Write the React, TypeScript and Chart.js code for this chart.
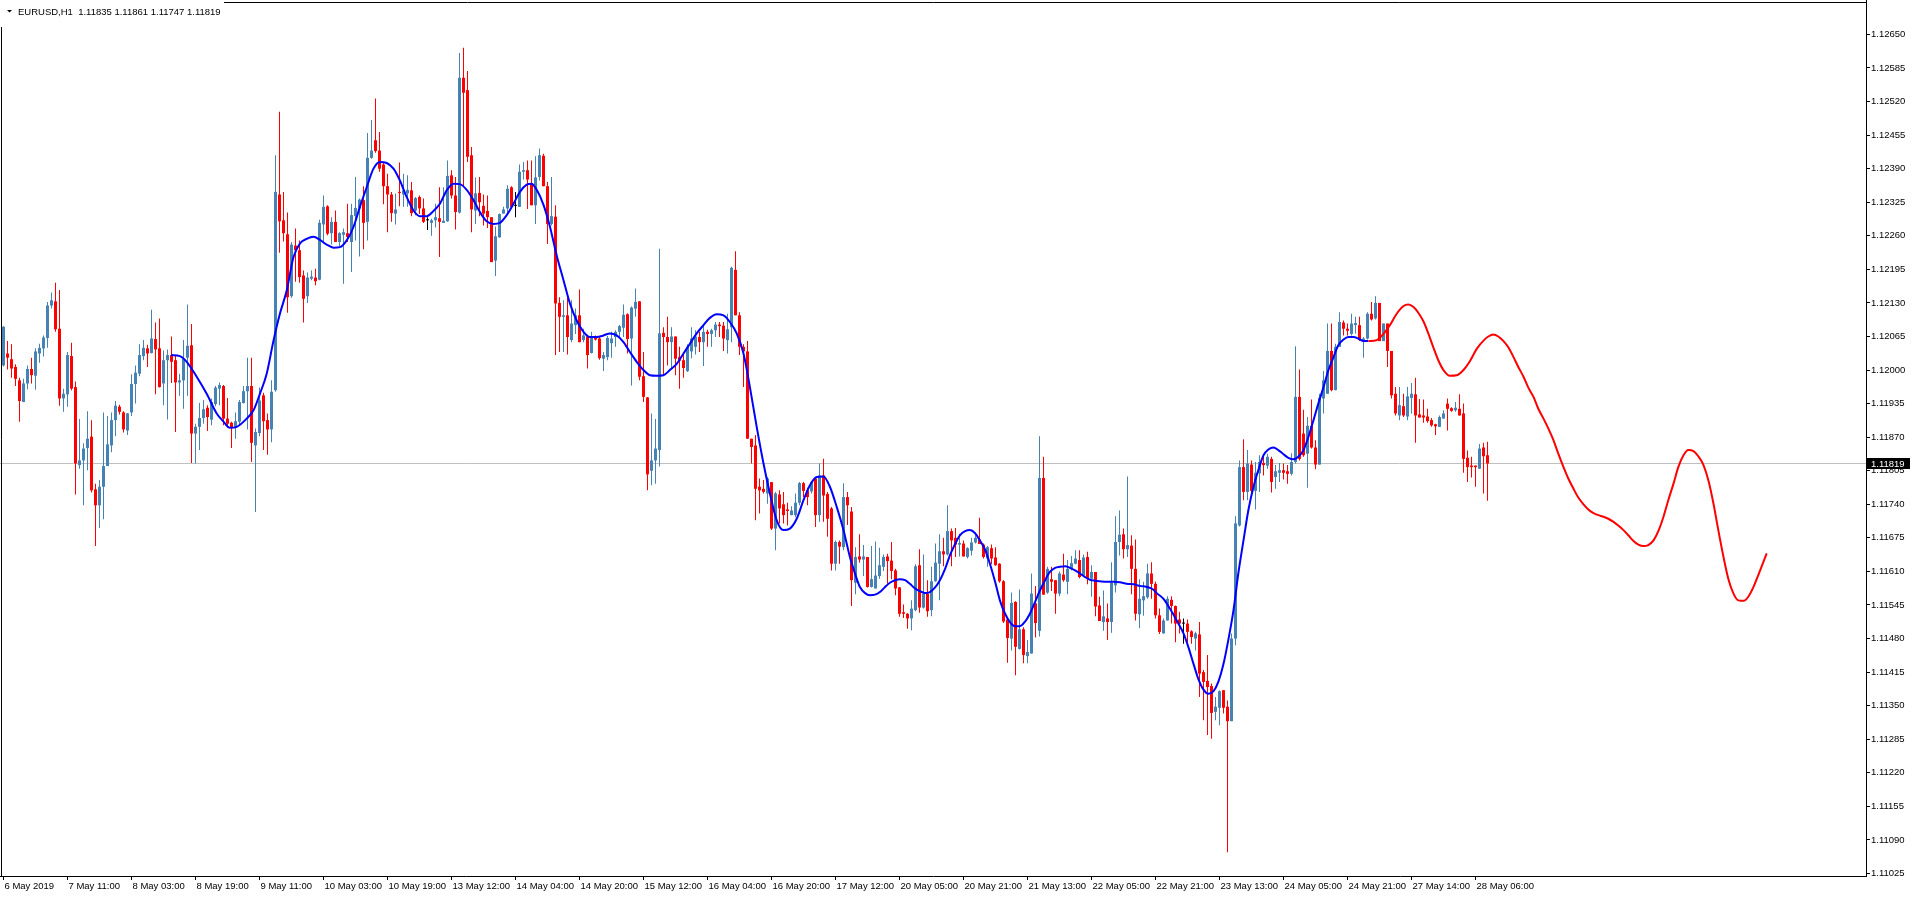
import React, { useEffect, useRef } from 'react';
import { Chart, registerables } from 'chart.js';

Chart.register(...registerables);

const SYMBOL = 'EURUSD,H1';

const xTickIdx = [0, 16, 32, 48, 64, 80, 96, 112, 128, 144, 160, 176, 192, 208, 224, 240, 256, 272, 288, 304, 320, 336, 352, 368];
const xTickLabels = ['6 May 2019', '7 May 11:00', '8 May 03:00', '8 May 19:00', '9 May 11:00', '10 May 03:00', '10 May 19:00', '13 May 12:00', '14 May 04:00', '14 May 20:00', '15 May 12:00', '16 May 04:00', '16 May 20:00', '17 May 12:00', '20 May 05:00', '20 May 21:00', '21 May 13:00', '22 May 05:00', '22 May 21:00', '23 May 13:00', '24 May 05:00', '24 May 21:00', '27 May 14:00', '28 May 06:00'];
const yTickVals = [1.11025, 1.1109, 1.11155, 1.1122, 1.11285, 1.1135, 1.11415, 1.1148, 1.11545, 1.1161, 1.11675, 1.1174, 1.11805, 1.1187, 1.11935, 1.12, 1.12065, 1.1213, 1.12195, 1.1226, 1.12325, 1.1239, 1.12455, 1.1252, 1.12585, 1.1265];

const open = [
  1.12009,1.12032,1.12021,1.12006,1.11980,1.11938,1.11974,1.12002,1.11989,1.12032,1.12042,1.12062,
  1.12125,1.12133,1.12080,1.11945,1.11953,1.12027,1.11967,1.11816,1.11825,1.11849,1.11871,1.11769,
  1.11738,1.11774,1.11814,1.11854,1.11903,1.11929,1.11918,1.11883,1.11918,1.11973,1.11993,1.12027,
  1.12042,1.12033,1.12060,1.12042,1.11974,1.12019,1.12029,1.12019,1.11976,1.11980,1.12024,1.12048,
  1.11877,1.11890,1.11907,1.11927,1.11904,1.11934,1.11964,1.11969,1.11906,1.11898,1.11888,1.11900,
  1.11936,1.11959,1.11969,1.11854,1.11878,1.11951,1.11903,1.11885,1.11961,1.12340,1.12290,1.12263,
  1.12143,1.12241,1.12232,1.12183,1.12143,1.12177,1.12179,1.12175,1.12282,1.12317,1.12265,1.12287,
  1.12248,1.12262,1.12265,1.12248,1.12298,1.12313,1.12329,1.12287,1.12411,1.12445,1.12425,1.12398,
  1.12356,1.12340,1.12303,1.12345,1.12340,1.12342,1.12348,1.12309,1.12335,1.12313,1.12290,1.12285,
  1.12290,1.12294,1.12285,1.12288,1.12377,1.12338,1.12305,1.12566,1.12542,1.12416,1.12309,1.12343,
  1.12318,1.12308,1.12296,1.12212,1.12257,1.12303,1.12313,1.12354,1.12318,1.12316,1.12384,1.12387,
  1.12361,1.12319,1.12374,1.12415,1.12356,1.12283,1.12297,1.12130,1.12103,1.12106,1.12058,1.12087,
  1.12106,1.12058,1.12065,1.12033,1.12064,1.12061,1.12022,1.12025,1.12052,1.12064,1.12074,1.12082,
  1.12108,1.12061,1.12119,1.12133,1.11988,1.11947,1.11805,1.11825,1.11845,1.12072,1.12064,1.12054,
  1.12065,1.12025,1.12019,1.11998,1.12036,1.12045,1.12064,1.12054,1.12074,1.12070,1.12077,1.12088,
  1.12086,1.12058,1.12083,1.12194,1.12106,1.12045,1.12036,1.11867,1.11854,1.11774,1.11770,1.11761,
  1.11783,1.11693,1.11759,1.11740,1.11730,1.11719,1.11719,1.11743,1.11781,1.11767,1.11765,1.11790,
  1.11719,1.11796,1.11760,1.11732,1.11625,1.11667,1.11657,1.11754,1.11726,1.11588,1.11639,1.11633,
  1.11638,1.11580,1.11577,1.11601,1.11619,1.11639,1.11631,1.11612,1.11579,1.11531,1.11528,1.11519,
  1.11535,1.11622,1.11540,1.11567,1.11535,1.11591,1.11625,1.11649,1.11643,1.11688,1.11675,1.11662,
  1.11664,1.11638,1.11650,1.11666,1.11672,1.11662,1.11635,1.11655,1.11637,1.11625,1.11591,1.11517,
  1.11480,1.11551,1.11460,1.11498,1.11446,1.11451,1.11548,1.11495,1.11791,1.11569,1.11595,1.11593,
  1.11567,1.11604,1.11590,1.11615,1.11625,1.11632,1.11602,1.11638,1.11596,1.11609,1.11544,1.11512,
  1.11519,1.11512,1.11583,1.11667,1.11682,1.11653,1.11660,1.11615,1.11527,1.11554,1.11560,1.11606,
  1.11586,1.11525,1.11490,1.11515,1.11555,1.11543,1.11517,1.11509,1.11509,1.11494,1.11480,1.11488,
  1.11415,1.11398,1.11388,1.11338,1.11346,1.11380,1.11348,1.11320,1.11480,1.11699,1.11812,1.11764,
  1.11817,1.11766,1.11800,1.11820,1.11815,1.11828,1.11793,1.11801,1.11806,1.11804,1.11799,1.11822,
  1.11948,1.11877,1.11838,1.11892,1.11850,1.11817,1.11945,1.11954,1.12037,1.11961,1.12045,1.12092,
  1.12080,1.12070,1.12087,1.12087,1.12058,1.12061,1.12109,1.12100,1.12130,1.12056,1.12090,1.12037,
  1.11954,1.11912,1.11930,1.11910,1.11946,1.11953,1.11914,1.11912,1.11910,1.11903,1.11895,1.11890,
  1.11906,1.11935,1.11926,1.11922,1.11925,1.11916,1.11830,1.11815,1.11815,1.11809,1.11850,1.11835,
];
const high = [
  1.12085,1.12056,1.12050,1.12011,1.11985,1.11983,1.12009,1.12024,1.12042,1.12051,1.12067,1.12132,
  1.12150,1.12169,1.12155,1.11964,1.12035,1.12053,1.11978,1.11905,1.11858,1.11920,1.11903,1.11780,
  1.11787,1.11918,1.11911,1.11918,1.11940,1.11933,1.11920,1.11917,1.11992,1.12009,1.12050,1.12058,
  1.12049,1.12117,1.12092,1.12100,1.12038,1.12040,1.12065,1.12029,1.11993,1.12058,1.12127,1.12089,
  1.11896,1.11936,1.11942,1.11932,1.11945,1.11969,1.11976,1.11971,1.11946,1.11900,1.11918,1.11942,
  1.11969,1.12024,1.12024,1.11887,1.11966,1.11956,1.11916,1.11980,1.12416,1.12500,1.12345,1.12305,
  1.12248,1.12274,1.12251,1.12193,1.12189,1.12193,1.12196,1.12291,1.12338,1.12319,1.12296,1.12309,
  1.12267,1.12274,1.12322,1.12322,1.12374,1.12332,1.12356,1.12459,1.12484,1.12526,1.12461,1.12403,
  1.12380,1.12345,1.12342,1.12402,1.12380,1.12377,1.12364,1.12335,1.12338,1.12332,1.12296,1.12293,
  1.12322,1.12354,1.12354,1.12406,1.12387,1.12374,1.12614,1.12624,1.12579,1.12432,1.12373,1.12374,
  1.12340,1.12338,1.12296,1.12278,1.12303,1.12316,1.12358,1.12356,1.12345,1.12398,1.12403,1.12406,
  1.12406,1.12414,1.12429,1.12419,1.12364,1.12374,1.12319,1.12141,1.12135,1.12141,1.12135,1.12119,
  1.12156,1.12080,1.12067,1.12074,1.12067,1.12064,1.12035,1.12066,1.12074,1.12077,1.12087,1.12127,
  1.12110,1.12123,1.12158,1.12133,1.12035,1.11948,1.11916,1.11905,1.12235,1.12083,1.12103,1.12083,
  1.12065,1.12045,1.12032,1.12050,1.12083,1.12077,1.12074,1.12087,1.12078,1.12080,1.12093,1.12093,
  1.12093,1.12109,1.12200,1.12230,1.12112,1.12050,1.12056,1.11867,1.11874,1.11790,1.11787,1.11793,
  1.11783,1.11764,1.11767,1.11764,1.11743,1.11736,1.11761,1.11783,1.11783,1.11772,1.11783,1.11793,
  1.11819,1.11828,1.11764,1.11735,1.11670,1.11670,1.11781,1.11764,1.11735,1.11657,1.11682,1.11661,
  1.11638,1.11659,1.11668,1.11656,1.11643,1.11644,1.11667,1.11615,1.11580,1.11546,1.11529,1.11554,
  1.11624,1.11653,1.11643,1.11593,1.11619,1.11664,1.11682,1.11675,1.11738,1.11693,1.11694,1.11683,
  1.11670,1.11657,1.11675,1.11680,1.11714,1.11664,1.11659,1.11662,1.11657,1.11626,1.11593,1.11519,
  1.11569,1.11552,1.11575,1.11502,1.11477,1.11606,1.11582,1.11872,1.11832,1.11619,1.11619,1.11593,
  1.11610,1.11644,1.11632,1.11640,1.11651,1.11651,1.11643,1.11648,1.11622,1.11609,1.11561,1.11573,
  1.11548,1.11628,1.11717,1.11728,1.11693,1.11794,1.11680,1.11672,1.11595,1.11590,1.11625,1.11628,
  1.11590,1.11538,1.11519,1.11562,1.11562,1.11544,1.11532,1.11519,1.11517,1.11496,1.11493,1.11512,
  1.11419,1.11448,1.11393,1.11367,1.11380,1.11380,1.11360,1.11490,1.11717,1.11825,1.11866,1.11845,
  1.11825,1.11822,1.11835,1.11834,1.11838,1.11832,1.11816,1.11820,1.11819,1.11816,1.11839,1.12046,
  1.12001,1.11923,1.11909,1.11943,1.11864,1.11954,1.11998,1.12090,1.12090,1.12051,1.12112,1.12096,
  1.12090,1.12109,1.12103,1.12103,1.12064,1.12112,1.12132,1.12143,1.12130,1.12090,1.12090,1.12037,
  1.11967,1.11967,1.11954,1.11967,1.11975,1.11985,1.11944,1.11943,1.11925,1.11907,1.11896,1.11912,
  1.11922,1.11945,1.11928,1.11938,1.11953,1.11935,1.11844,1.11832,1.11815,1.11857,1.11859,1.11861,
];
const low = [
  1.12007,1.12001,1.11985,1.11969,1.11900,1.11938,1.11963,1.11974,1.11962,1.12014,1.12026,1.12043,
  1.12119,1.12074,1.11931,1.11919,1.11929,1.11961,1.11759,1.11809,1.11738,1.11806,1.11763,1.11659,
  1.11694,1.11711,1.11814,1.11841,1.11872,1.11914,1.11879,1.11874,1.11911,1.11935,1.11988,1.12019,
  1.12006,1.12032,1.11953,1.11966,1.11932,1.11904,1.11975,1.11880,1.11950,1.11925,1.11950,1.11820,
  1.11819,1.11845,1.11896,1.11882,1.11893,1.11930,1.11932,1.11893,1.11888,1.11849,1.11867,1.11892,
  1.11935,1.11885,1.11822,1.11725,1.11872,1.11845,1.11836,1.11860,1.11958,1.12227,1.12249,1.12111,
  1.12140,1.12171,1.12169,1.12092,1.12130,1.12174,1.12164,1.12174,1.12245,1.12261,1.12243,1.12248,
  1.12240,1.12167,1.12248,1.12190,1.12251,1.12220,1.12234,1.12251,1.12409,1.12421,1.12384,1.12321,
  1.12267,1.12287,1.12282,1.12317,1.12316,1.12316,1.12298,1.12300,1.12302,1.12285,1.12271,1.12260,
  1.12276,1.12219,1.12285,1.12287,1.12332,1.12272,1.12303,1.12356,1.12403,1.12267,1.12283,1.12298,
  1.12280,1.12275,1.12209,1.12182,1.12256,1.12303,1.12303,1.12313,1.12296,1.12316,1.12369,1.12312,
  1.12319,1.12283,1.12367,1.12356,1.12244,1.12280,1.12029,1.12035,1.12035,1.12030,1.12054,1.12070,
  1.12054,1.12054,1.12003,1.12032,1.12057,1.12020,1.11998,1.12019,1.12024,1.12045,1.12064,1.12064,
  1.12032,1.11970,1.12103,1.11980,1.11938,1.11767,1.11777,1.11780,1.11813,1.11990,1.12009,1.12000,
  1.11990,1.11964,1.11985,1.11996,1.12023,1.12030,1.12035,1.12008,1.12045,1.12045,1.12064,1.12064,
  1.12037,1.12032,1.12054,1.12106,1.12029,1.11967,1.11867,1.11819,1.11709,1.11722,1.11761,1.11741,
  1.11690,1.11651,1.11703,1.11703,1.11699,1.11719,1.11715,1.11738,1.11754,1.11738,1.11761,1.11696,
  1.11706,1.11706,1.11677,1.11612,1.11612,1.11625,1.11651,1.11700,1.11543,1.11566,1.11627,1.11601,
  1.11579,1.11579,1.11577,1.11596,1.11611,1.11586,1.11595,1.11564,1.11522,1.11520,1.11499,1.11496,
  1.11533,1.11530,1.11538,1.11522,1.11523,1.11590,1.11554,1.11620,1.11641,1.11620,1.11638,1.11639,
  1.11639,1.11635,1.11641,1.11664,1.11663,1.11635,1.11619,1.11624,1.11621,1.11588,1.11510,1.11433,
  1.11457,1.11409,1.11459,1.11432,1.11432,1.11451,1.11482,1.11484,1.11565,1.11567,1.11572,1.11528,
  1.11562,1.11590,1.11566,1.11612,1.11624,1.11597,1.11599,1.11585,1.11561,1.11523,1.11514,1.11495,
  1.11477,1.11491,1.11569,1.11641,1.11635,1.11638,1.11566,1.11515,1.11500,1.11524,1.11557,1.11557,
  1.11519,1.11489,1.11490,1.11515,1.11509,1.11473,1.11490,1.11470,1.11473,1.11470,1.11457,1.11367,
  1.11322,1.11293,1.11286,1.11322,1.11312,1.11335,1.11066,1.11320,1.11467,1.11697,1.11748,1.11748,
  1.11756,1.11730,1.11764,1.11796,1.11809,1.11763,1.11770,1.11783,1.11788,1.11780,1.11796,1.11819,
  1.11825,1.11832,1.11772,1.11848,1.11808,1.11817,1.11916,1.11954,1.11959,1.11961,1.12045,1.12067,
  1.12067,1.12067,1.12071,1.12056,1.12024,1.12059,1.12096,1.12098,1.12056,1.12056,1.12006,1.11945,
  1.11912,1.11903,1.11909,1.11903,1.11916,1.11859,1.11908,1.11898,1.11898,1.11890,1.11874,1.11890,
  1.11906,1.11883,1.11919,1.11919,1.11912,1.11801,1.11783,1.11792,1.11774,1.11809,1.11761,1.11747,
];
const close = [
  1.12084,1.12024,1.12003,1.11983,1.11940,1.11974,1.12002,1.11990,1.12036,1.12043,1.12063,1.12125,
  1.12135,1.12079,1.11945,1.11954,1.12029,1.11964,1.11819,1.11825,1.11848,1.11867,1.11767,1.11738,
  1.11774,1.11814,1.11856,1.11903,1.11931,1.11919,1.11885,1.11916,1.11973,1.11995,1.12029,1.12043,
  1.12032,1.12061,1.12040,1.11967,1.12019,1.12029,1.12016,1.11976,1.11980,1.12022,1.12047,1.11877,
  1.11890,1.11907,1.11924,1.11909,1.11938,1.11966,1.11971,1.11906,1.11896,1.11888,1.11901,1.11938,
  1.11959,1.11969,1.11859,1.11880,1.11941,1.11901,1.11885,1.11958,1.12345,1.12288,1.12265,1.12141,
  1.12243,1.12232,1.12180,1.12138,1.12179,1.12181,1.12172,1.12285,1.12316,1.12264,1.12287,1.12248,
  1.12265,1.12267,1.12258,1.12300,1.12314,1.12330,1.12285,1.12411,1.12425,1.12424,1.12390,1.12356,
  1.12340,1.12304,1.12311,1.12343,1.12348,1.12349,1.12304,1.12333,1.12313,1.12287,1.12290,1.12290,
  1.12296,1.12287,1.12289,1.12376,1.12338,1.12306,1.12566,1.12537,1.12413,1.12311,1.12342,1.12325,
  1.12303,1.12296,1.12209,1.12259,1.12302,1.12311,1.12351,1.12316,1.12318,1.12384,1.12387,1.12369,
  1.12319,1.12373,1.12416,1.12356,1.12283,1.12298,1.12129,1.12103,1.12106,1.12064,1.12090,1.12106,
  1.12054,1.12067,1.12029,1.12064,1.12059,1.12023,1.12029,1.12062,1.12061,1.12074,1.12085,1.12107,
  1.12060,1.12121,1.12132,1.11987,1.11948,1.11798,1.11825,1.11848,1.12071,1.12064,1.12054,1.12065,
  1.12022,1.12018,1.12004,1.12045,1.12061,1.12065,1.12054,1.12074,1.12070,1.12077,1.12088,1.12085,
  1.12061,1.12079,1.12198,1.12106,1.12045,1.12036,1.11867,1.11851,1.11770,1.11767,1.11764,1.11790,
  1.11693,1.11761,1.11732,1.11719,1.11727,1.11728,1.11743,1.11781,1.11766,1.11754,1.11783,1.11719,
  1.11796,1.11757,1.11712,1.11625,1.11667,1.11658,1.11754,1.11738,1.11593,1.11638,1.11633,1.11639,
  1.11580,1.11595,1.11602,1.11622,1.11638,1.11630,1.11611,1.11577,1.11528,1.11528,1.11519,1.11538,
  1.11620,1.11540,1.11567,1.11533,1.11591,1.11627,1.11649,1.11643,1.11688,1.11670,1.11662,1.11665,
  1.11639,1.11655,1.11666,1.11675,1.11663,1.11638,1.11657,1.11635,1.11622,1.11591,1.11513,1.11481,
  1.11549,1.11464,1.11498,1.11448,1.11454,1.11567,1.11510,1.11791,1.11565,1.11615,1.11590,1.11567,
  1.11606,1.11593,1.11615,1.11626,1.11635,1.11599,1.11637,1.11596,1.11609,1.11542,1.11514,1.11523,
  1.11512,1.11588,1.11667,1.11681,1.11653,1.11661,1.11615,1.11528,1.11557,1.11562,1.11606,1.11586,
  1.11525,1.11493,1.11515,1.11557,1.11543,1.11509,1.11509,1.11509,1.11493,1.11483,1.11490,1.11412,
  1.11396,1.11386,1.11336,1.11348,1.11378,1.11346,1.11320,1.11480,1.11703,1.11812,1.11764,1.11819,
  1.11766,1.11801,1.11822,1.11816,1.11832,1.11783,1.11804,1.11806,1.11801,1.11799,1.11822,1.11948,
  1.11828,1.11835,1.11892,1.11850,1.11817,1.11946,1.11980,1.12037,1.11961,1.12045,1.12093,1.12080,
  1.12076,1.12090,1.12091,1.12058,1.12061,1.12109,1.12098,1.12130,1.12056,1.12090,1.12037,1.11951,
  1.11916,1.11932,1.11912,1.11949,1.11954,1.11912,1.11908,1.11908,1.11901,1.11893,1.11891,1.11909,
  1.11916,1.11925,1.11921,1.11927,1.11912,1.11828,1.11812,1.11812,1.11812,1.11848,1.11833,1.11819,
];

const blueIdx = [
  41.9,44.1,45.8,48.3,50.8,53.3,55.0,56.6,58.3,60.8,62.5,64.1,65.8,67.5,69.1,70.8,72.5,74.1,75.8,77.5,
  79.1,80.8,82.5,84.1,85.8,87.5,89.1,90.8,92.5,94.1,95.8,97.5,99.1,100.8,102.5,104.1,105.8,107.5,109.1,110.8,
  112.5,114.1,115.8,117.5,119.1,120.8,122.5,124.1,125.8,127.5,129.1,130.8,132.0,133.3,135.0,136.6,138.3,140.0,141.6,143.3,
  145.0,146.6,148.3,150.0,151.6,153.3,155.0,156.6,158.3,160.0,161.6,163.3,165.0,166.6,168.3,170.0,171.6,173.3,175.0,176.6,
  178.3,180.0,181.6,183.3,185.0,186.6,188.3,190.0,191.6,193.3,195.0,196.6,198.3,200.0,201.6,203.3,205.0,206.6,208.3,210.0,
  210.8,211.6,212.5,213.3,214.1,215.4,216.6,217.9,219.1,220.4,221.6,222.9,224.1,225.4,226.6,227.9,229.1,230.4,231.6,232.9,
  234.1,235.4,236.6,237.9,239.1,240.4,241.6,242.9,244.1,245.4,246.6,247.9,249.1,250.4,251.6,252.9,254.1,255.4,256.6,257.9,
  259.1,260.4,261.6,262.9,264.1,265.4,266.6,267.9,269.1,270.4,271.6,272.9,274.1,275.8,277.5,279.1,280.8,282.5,284.1,285.8,
  287.4,288.3,290.0,291.6,293.3,295.0,296.2,297.5,298.7,300.0,301.2,302.5,303.7,305.0,306.2,307.5,308.7,310.0,311.2,312.5,
  313.7,315.0,316.2,317.5,318.7,320.0,321.2,322.5,323.7,325.0,326.2,327.5,328.7,330.0,331.2,332.5,333.7,335.0,336.2,337.5,
  338.7,340.0,341.2,
];
const bluePrice = [
  1.12029,1.12027,1.12016,1.11987,1.11954,1.11916,1.11900,1.11888,1.11890,1.11906,1.11922,1.11954,1.11993,1.12057,1.12109,1.12154,1.12219,1.12245,1.12254,1.12258,
  1.12252,1.12243,1.12237,1.12238,1.12251,1.12277,1.12316,1.12354,1.12390,1.12403,1.12401,1.12390,1.12367,1.12335,1.12309,1.12298,1.12298,1.12308,1.12322,1.12348,
  1.12361,1.12360,1.12349,1.12329,1.12306,1.12288,1.12283,1.12285,1.12300,1.12322,1.12345,1.12359,1.12361,1.12349,1.12320,1.12278,1.12222,1.12174,1.12129,1.12096,
  1.12074,1.12064,1.12064,1.12067,1.12071,1.12067,1.12054,1.12035,1.12016,1.12000,1.11990,1.11989,1.11990,1.12000,1.12012,1.12032,1.12051,1.12071,1.12087,1.12101,
  1.12108,1.12106,1.12093,1.12071,1.12032,1.11967,1.11890,1.11819,1.11761,1.11709,1.11690,1.11693,1.11712,1.11748,1.11777,1.11793,1.11794,1.11774,1.11735,1.11690,
  1.11664,1.11638,1.11615,1.11596,1.11580,1.11568,1.11564,1.11565,1.11570,1.11580,1.11588,1.11593,1.11595,1.11593,1.11586,1.11577,1.11572,1.11568,1.11570,1.11579,
  1.11593,1.11615,1.11641,1.11663,1.11680,1.11688,1.11690,1.11684,1.11670,1.11652,1.11625,1.11590,1.11554,1.11528,1.11512,1.11504,1.11504,1.11513,1.11528,1.11551,
  1.11573,1.11593,1.11609,1.11617,1.11619,1.11620,1.11617,1.11612,1.11606,1.11599,1.11594,1.11592,1.11591,1.11590,1.11590,1.11589,1.11586,1.11585,1.11582,1.11580,
  1.11575,1.11568,1.11557,1.11538,1.11515,1.11490,1.11464,1.11431,1.11402,1.11381,1.11373,1.11378,1.11396,1.11431,1.11477,1.11535,1.11606,1.11670,1.11728,1.11774,
  1.11806,1.11835,1.11846,1.11850,1.11845,1.11837,1.11830,1.11827,1.11832,1.11845,1.11870,1.11903,1.11935,1.11967,1.11999,1.12025,1.12048,1.12059,1.12064,1.12064,
  1.12061,1.12056,1.12056,
];
const redIdx = [
  341.2,343.3,345.0,346.6,348.3,350.0,351.2,352.5,353.7,355.0,356.2,357.5,358.7,360.0,361.6,363.3,365.0,366.6,368.3,370.0,
  371.2,372.5,373.7,375.0,376.2,377.5,378.7,380.0,381.2,382.5,383.7,385.0,386.2,387.5,388.7,390.0,391.2,392.5,393.7,395.0,
  396.2,397.5,398.7,400.0,401.2,402.5,403.7,405.0,406.2,407.5,408.7,410.0,411.2,412.5,413.7,415.0,416.2,417.5,418.7,420.0,
  421.2,422.5,423.7,425.0,426.2,427.5,428.7,430.0,431.2,432.5,433.7,435.0,436.2,437.5,438.7,440.0,440.8,
];
const redPrice = [
  1.12056,1.12058,1.12070,1.12087,1.12109,1.12124,1.12127,1.12122,1.12111,1.12094,1.12071,1.12043,1.12019,1.12000,1.11989,1.11990,1.12000,1.12017,1.12041,1.12057,
  1.12065,1.12069,1.12065,1.12056,1.12044,1.12025,1.12006,1.11987,1.11966,1.11948,1.11925,1.11906,1.11887,1.11864,1.11838,1.11812,1.11790,1.11770,1.11753,1.11740,
  1.11730,1.11723,1.11719,1.11716,1.11712,1.11706,1.11699,1.11690,1.11680,1.11669,1.11662,1.11659,1.11661,1.11670,1.11688,1.11716,1.11748,1.11780,1.11812,1.11835,
  1.11845,1.11843,1.11833,1.11816,1.11787,1.11741,1.11690,1.11638,1.11596,1.11567,1.11554,1.11553,1.11561,1.11580,1.11603,1.11629,1.11645,
];

const W = 1912;
const H = 897;
const AXIS_W = 46;
const AXIS_H = 21;
const BAR_STEP = 4;
const X_MIN = -0.875;
const X_MAX = X_MIN + (W - AXIS_W) / BAR_STEP;
const Y_MIN = 1.1102016;
const Y_MAX = 1.1271662;
const FONT = "'Liberation Sans', Arial, sans-serif";
const BULL = '#4682B4';
const BEAR = '#FF0000';
const DOJI = '#000000';

export default function App() {
  const ref = useRef<HTMLCanvasElement | null>(null);

  useEffect(() => {
    document.body.style.margin = '0';
    const canvas = ref.current;
    if (!canvas) return;
    const n = open.length;
    const colors = open.map((o, i) => (close[i] > o ? BULL : close[i] < o ? BEAR : DOJI));
    const wickData = open.map((_, i) => ({ x: i, y: [low[i], high[i]] }));
    const bodyData = open.map((o, i) => ({ x: i, y: [o, close[i]] }));
    const blueData = blueIdx.map((x, k) => ({ x, y: bluePrice[k] }));
    const redData = redIdx.map((x, k) => ({ x, y: redPrice[k] }));

    const extras = {
      id: 'mtExtras',
      beforeDatasetsDraw(chart: any) {
        const { ctx, chartArea: a, scales } = chart;
        const yb = scales.y.getPixelForValue(close[n - 1]);
        ctx.save();
        ctx.lineWidth = 1;
        ctx.strokeStyle = '#C0C0C0';
        ctx.beginPath();
        ctx.moveTo(a.left, yb);
        ctx.lineTo(a.right, yb);
        ctx.stroke();
        ctx.strokeStyle = '#000';
        ctx.beginPath();
        ctx.moveTo(1.5, a.bottom);
        ctx.lineTo(1.5, 2.5);
        ctx.lineTo(a.right, 2.5);
        ctx.stroke();
        ctx.restore();
      },
      afterDraw(chart: any) {
        const { ctx, scales } = chart;
        const fmt = (v: number) => v.toFixed(5);
        ctx.save();
        ctx.fillStyle = '#fff';
        ctx.fillRect(0, 0, 224, 27);
        ctx.fillStyle = '#000';
        ctx.beginPath();
        ctx.moveTo(7, 10);
        ctx.lineTo(12, 10);
        ctx.lineTo(9.5, 12.5);
        ctx.closePath();
        ctx.fill();
        ctx.font = `9.5px ${FONT}`;
        ctx.textAlign = 'left';
        ctx.textBaseline = 'alphabetic';
        ctx.fillText(`${SYMBOL}  ${fmt(open[n - 1])} ${fmt(high[n - 1])} ${fmt(low[n - 1])} ${fmt(close[n - 1])}`, 18, 14.5);
        const yb = scales.y.getPixelForValue(close[n - 1]);
        ctx.fillStyle = '#000';
        ctx.fillRect(1867, Math.round(yb - 5.5), 43, 11);
        ctx.fillStyle = '#fff';
        ctx.textBaseline = 'middle';
        ctx.fillText(fmt(close[n - 1]), 1871, yb + 0.5);
        ctx.restore();
      },
    };

    const chart = new Chart(canvas, {
      type: 'bar',
      data: {
        datasets: [
          {
            type: 'bar',
            data: wickData as any,
            backgroundColor: colors,
            borderWidth: 0,
            barThickness: 1,
            grouped: false,
            inflateAmount: 0,
            order: 3,
          } as any,
          {
            type: 'bar',
            data: bodyData as any,
            backgroundColor: colors,
            borderWidth: 0,
            barThickness: 3,
            minBarLength: 1,
            grouped: false,
            inflateAmount: 0,
            order: 2,
          } as any,
          {
            type: 'line',
            data: blueData as any,
            borderColor: '#0000FF',
            borderWidth: 2,
            pointRadius: 0,
            cubicInterpolationMode: 'monotone',
            order: 1,
          } as any,
          {
            type: 'line',
            data: redData as any,
            borderColor: '#FF0000',
            borderWidth: 2,
            pointRadius: 0,
            cubicInterpolationMode: 'monotone',
            order: 0,
          } as any,
        ],
      },
      options: {
        responsive: false,
        animation: false,
        devicePixelRatio: 1,
        layout: { padding: 0, autoPadding: false },
        plugins: { legend: { display: false }, tooltip: { enabled: false } },
        events: [],
        scales: {
          x: {
            type: 'linear',
            position: 'bottom',
            min: X_MIN,
            max: X_MAX,
            offset: false,
            bounds: 'data',
            afterBuildTicks: (s: any) => {
              s.ticks = xTickIdx.map((v) => ({ value: v }));
            },
            afterFit: (s: any) => {
              s.height = AXIS_H;
              s.paddingLeft = 0;
              s.paddingRight = 0;
            },
            grid: { display: true, drawOnChartArea: false, drawTicks: true, tickLength: 4, color: '#000', lineWidth: 1, offset: false },
            border: { display: true, color: '#000', width: 1 },
            ticks: {
              autoSkip: false,
              maxRotation: 0,
              minRotation: 0,
              align: 'start',
              padding: 1,
              labelOffset: 1,
              color: '#000',
              font: { family: FONT, size: 9.5 },
              callback: (_v: any, i: number) => xTickLabels[i] ?? '',
            },
          },
          y: {
            type: 'linear',
            position: 'right',
            min: Y_MIN,
            max: Y_MAX,
            bounds: 'data',
            afterBuildTicks: (s: any) => {
              s.ticks = yTickVals.map((v) => ({ value: v }));
            },
            afterFit: (s: any) => {
              s.width = AXIS_W;
              s.paddingTop = 0;
              s.paddingBottom = 0;
            },
            grid: { display: true, drawOnChartArea: false, drawTicks: true, tickLength: 4, color: '#000', lineWidth: 1 },
            border: { display: true, color: '#000', width: 1 },
            ticks: {
              autoSkip: false,
              padding: 1,
              color: '#000',
              font: { family: FONT, size: 9.5 },
              callback: (v: any) => Number(v).toFixed(5),
            },
          },
        },
      } as any,
      plugins: [extras],
    });

    return () => chart.destroy();
  }, []);

  return (
    <div style={{ position: 'fixed', left: 0, top: 0, width: W, height: H, background: '#fff' }}>
      <canvas ref={ref} width={W} height={H} style={{ display: 'block', width: W, height: H }} />
    </div>
  );
}
